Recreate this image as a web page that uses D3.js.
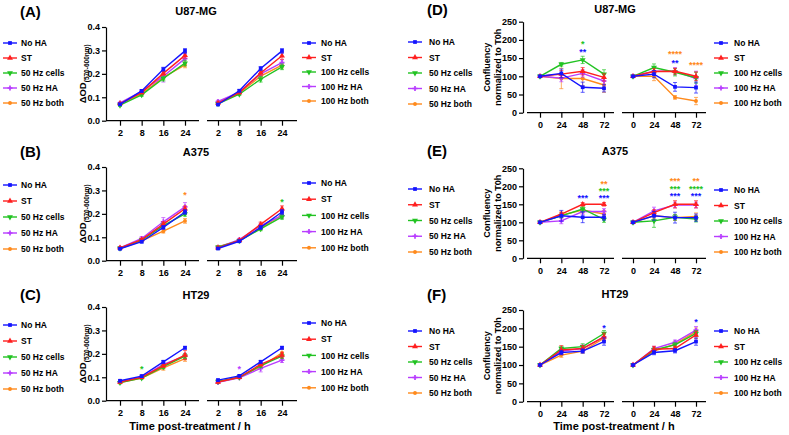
<!DOCTYPE html>
<html>
<head>
<meta charset="utf-8">
<script src="https://cdn.jsdelivr.net/npm/d3@7"></script>
<style>
body { margin: 0; background: #fff; }
text { font-family: "Liberation Sans", Arial, sans-serif; font-weight: bold; }
</style>
</head>
<body>
<svg width="789" height="435" viewBox="0 0 789 435"></svg>
<script>
// categories
const odTimes = ["2", "8", "16", "24"];
const confTimes = ["0", "24", "48", "72"];
const names50 = ["No HA", "ST", "50 Hz cells", "50 Hz HA", "50 Hz both"];
const names100 = ["No HA", "ST", "100 Hz cells", "100 Hz HA", "100 Hz both"];
const colors = ["#1414ff", "#ff1f1f", "#22c322", "#b83cff", "#ff8a1c"];

// OD values, one row per series
const u87Od50 = [[0.070, 0.127, 0.220, 0.298], [0.073, 0.120, 0.202, 0.279], [0.066, 0.110, 0.180, 0.246], [0.076, 0.125, 0.190, 0.265], [0.071, 0.115, 0.185, 0.238]];
const u87Od50Err = [[0.004, 0.005, 0.008, 0.010], [0.004, 0.005, 0.008, 0.012], [0.005, 0.006, 0.010, 0.012], [0.004, 0.008, 0.025, 0.020], [0.004, 0.006, 0.010, 0.012]];
const u87Od100 = [[0.069, 0.128, 0.223, 0.298], [0.075, 0.120, 0.204, 0.277], [0.072, 0.113, 0.177, 0.230], [0.082, 0.122, 0.200, 0.248], [0.078, 0.118, 0.190, 0.237]];
const u87Od100Err = [[0.004, 0.005, 0.008, 0.010], [0.004, 0.005, 0.010, 0.015], [0.004, 0.005, 0.012, 0.012], [0.005, 0.005, 0.010, 0.012], [0.004, 0.005, 0.010, 0.012]];

const a375Od50 = [[0.051, 0.081, 0.142, 0.208], [0.055, 0.090, 0.156, 0.222], [0.053, 0.088, 0.150, 0.200], [0.055, 0.095, 0.166, 0.230], [0.052, 0.085, 0.126, 0.170]];
const a375Od50Err = [[0.004, 0.005, 0.008, 0.010], [0.004, 0.005, 0.010, 0.012], [0.003, 0.005, 0.010, 0.010], [0.004, 0.008, 0.018, 0.018], [0.003, 0.005, 0.008, 0.010]];
const a375Od100 = [[0.052, 0.083, 0.142, 0.208], [0.055, 0.087, 0.155, 0.222], [0.058, 0.085, 0.136, 0.187], [0.057, 0.090, 0.150, 0.192], [0.060, 0.086, 0.140, 0.195]];
const a375Od100Err = [[0.004, 0.005, 0.008, 0.010], [0.004, 0.005, 0.010, 0.012], [0.004, 0.005, 0.008, 0.010], [0.004, 0.005, 0.010, 0.012], [0.004, 0.005, 0.008, 0.012]];

const ht29Od50 = [[0.085, 0.105, 0.166, 0.226], [0.080, 0.100, 0.150, 0.195], [0.077, 0.097, 0.145, 0.190], [0.080, 0.100, 0.155, 0.190], [0.077, 0.097, 0.140, 0.180]];
const ht29Od50Err = [[0.004, 0.004, 0.006, 0.006], [0.004, 0.005, 0.008, 0.020], [0.004, 0.004, 0.008, 0.010], [0.004, 0.005, 0.010, 0.012], [0.004, 0.004, 0.010, 0.012]];
const ht29Od100 = [[0.088, 0.106, 0.166, 0.226], [0.080, 0.100, 0.155, 0.195], [0.082, 0.100, 0.150, 0.190], [0.078, 0.098, 0.138, 0.173], [0.080, 0.100, 0.145, 0.204]];
const ht29Od100Err = [[0.004, 0.004, 0.006, 0.006], [0.004, 0.005, 0.008, 0.012], [0.004, 0.004, 0.008, 0.010], [0.004, 0.005, 0.015, 0.010], [0.004, 0.004, 0.008, 0.015]];

// confluency values (% of T0h)
const u87Conf50 = [[100, 108, 70, 67], [100, 106, 114, 97], [100, 133, 145, 106], [100, 95, 108, 87], [100, 94, 94, 76]];
const u87Conf50Err = [[0, 12, 14, 10], [0, 10, 10, 10], [0, 5, 10, 12], [0, 10, 10, 20], [0, 28, 20, 20]];
const u87Conf100 = [[100, 106, 71, 69], [100, 113, 114, 100], [100, 124, 111, 96], [100, 114, 114, 94], [100, 100, 42, 32]];
const u87Conf100Err = [[0, 10, 12, 15], [0, 8, 8, 12], [0, 10, 10, 15], [0, 10, 10, 20], [0, 12, 5, 10]];

const a375Conf50 = [[100, 118, 114, 114], [100, 123, 150, 150], [100, 118, 137, 108], [100, 104, 130, 130], [100, 120, 134, 123]];
const a375Conf50Err = [[0, 15, 15, 8], [0, 5, 5, 5], [0, 5, 8, 8], [0, 8, 8, 8], [0, 8, 8, 10]];
const a375Conf100 = [[100, 118, 113, 113], [100, 127, 150, 150], [100, 104, 114, 109], [100, 132, 148, 148], [100, 118, 113, 116]];
const a375Conf100Err = [[0, 12, 15, 10], [0, 8, 10, 10], [0, 18, 8, 8], [0, 10, 8, 8], [0, 8, 8, 10]];

const ht29Conf50 = [[100, 134, 138, 164], [100, 141, 145, 177], [100, 145, 150, 186], [100, 138, 145, 177], [100, 127, 138, 173]];
const ht29Conf50Err = [[0, 6, 6, 10], [0, 12, 8, 10], [0, 6, 8, 8], [0, 8, 10, 10], [0, 6, 6, 10]];
const ht29Conf100 = [[100, 134, 139, 164], [100, 143, 145, 182], [100, 141, 155, 186], [100, 145, 162, 195], [100, 138, 157, 191]];
const ht29Conf100Err = [[0, 6, 6, 10], [0, 8, 6, 10], [0, 6, 6, 8], [0, 6, 6, 10], [0, 6, 8, 10]];

// significance: panel, side, time index, series, number of stars, value
const sigMarks = [
    ["B", 0, 3, 4, 1, 0.287], ["B", 1, 3, 2, 1, 0.258],
    ["C", 0, 1, 2, 1, 0.142], ["C", 1, 1, 3, 1, 0.142],
    ["D", 0, 2, 2, 1, 193], ["D", 0, 2, 0, 2, 170],
    ["D", 1, 2, 4, 4, 165], ["D", 1, 2, 0, 2, 142], ["D", 1, 3, 4, 4, 134],
    ["E", 0, 2, 0, 3, 171], ["E", 0, 3, 4, 2, 210], ["E", 0, 3, 2, 3, 190], ["E", 0, 3, 0, 3, 171],
    ["E", 1, 2, 4, 3, 219], ["E", 1, 2, 2, 3, 197], ["E", 1, 2, 0, 3, 176],
    ["E", 1, 3, 4, 2, 219], ["E", 1, 3, 2, 4, 197], ["E", 1, 3, 0, 3, 176],
    ["F", 0, 3, 0, 1, 205], ["F", 1, 3, 0, 1, 221]
];

const svg = d3.select("svg");

const symbols = [
    d3.symbol(d3.symbolSquare, 14),
    d3.symbol(d3.symbolTriangle, 15),
    d3.symbol(d3.symbolTriangle, 15),
    d3.symbol(d3.symbolCross, 14),
    d3.symbol(d3.symbolCircle, 12)
];

const odLayout = {
    times: odTimes, domain: [0, 0.4], ticks: [0, 0.1, 0.2, 0.3, 0.4], fmt: d3.format(".1f"),
    axisX: 106, labelX: 20, titleX: 196,
    subs: [{ range: [120, 185], line: [106, 199] }, { range: [218, 282], line: [207, 297] }],
    legends: [{ x1: 3, x2: 17, tx: 21 }, { x1: 302, x2: 316, tx: 321 }]
};
const confLayout = {
    times: confTimes, domain: [0, 250], ticks: [0, 50, 100, 150, 200, 250], fmt: d3.format("d"),
    axisX: 523, labelX: 427, titleX: 615,
    subs: [{ range: [540, 604], line: [527, 614] }, { range: [633, 696], line: [622, 706] }],
    legends: [{ x1: 408, x2: 422, tx: 429 }, { x1: 714, x2: 728, tx: 734 }]
};

const panels = [
    { id: "A", title: "U87-MG", lay: odLayout, data: [u87Od50, u87Od100], err: [u87Od50Err, u87Od100Err], yRange: [120.7, 27], labelY: 17, titleY: 15, leg: [[43, 15], [43, 14.5]] },
    { id: "B", title: "A375", lay: odLayout, data: [a375Od50, a375Od100], err: [a375Od50Err, a375Od100Err], yRange: [260.7, 167], labelY: 157, titleY: 156, leg: [[185, 16], [183, 16.2]] },
    { id: "C", title: "HT29", lay: odLayout, data: [ht29Od50, ht29Od100], err: [ht29Od50Err, ht29Od100Err], yRange: [400.7, 307], labelY: 300, titleY: 299, leg: [[325, 16], [323, 16.2]] },
    { id: "D", title: "U87-MG", lay: confLayout, data: [u87Conf50, u87Conf100], err: [u87Conf50Err, u87Conf100Err], yRange: [112.7, 21.7], labelY: 15, titleY: 13, leg: [[42, 15.5], [43, 15]] },
    { id: "E", title: "A375", lay: confLayout, data: [a375Conf50, a375Conf100], err: [a375Conf50Err, a375Conf100Err], yRange: [258.3, 168.3], labelY: 156, titleY: 155, leg: [[189, 15.75], [190, 15.5]] },
    { id: "F", title: "HT29", lay: confLayout, data: [ht29Conf50, ht29Conf100], err: [ht29Conf50Err, ht29Conf100Err], yRange: [401.7, 310], labelY: 300, titleY: 298, leg: [[331, 15.5], [331, 15.5]] }
];

function styleAxis(g) {
    g.selectAll("path, line").attr("stroke", "#000").attr("stroke-width", 1.2);
    g.selectAll("text").attr("font-size", 9).attr("fill", "#000")
        .attr("font-family", "'Liberation Sans', Arial, sans-serif").attr("font-weight", "bold");
}

function marker(sel, k, x, y) {
    sel.append("path")
        .attr("d", symbols[k]())
        .attr("transform", `translate(${x},${y})` + (k === 2 ? " rotate(180)" : ""))
        .attr("fill", colors[k]);
}

function drawPanel(p) {
    const lay = p.lay;
    const g = svg.append("g");
    const y = d3.scaleLinear().domain(lay.domain).range(p.yRange);

    g.append("text").attr("x", lay.labelX).attr("y", p.labelY)
        .attr("font-size", 15).text(`(${p.id})`);
    g.append("text").attr("x", lay.titleX).attr("y", p.titleY)
        .attr("text-anchor", "middle").attr("font-size", 11).text(p.title);

    g.append("g").attr("transform", `translate(${lay.axisX},0)`)
        .call(d3.axisLeft(y).tickValues(lay.ticks).tickFormat(lay.fmt).tickSize(4).tickSizeOuter(0).tickPadding(2))
        .call(styleAxis);

    // y axis title
    const midY = (p.yRange[0] + p.yRange[1]) / 2;
    if (lay === odLayout) {
        const t = g.append("text").attr("transform", `translate(86,${midY}) rotate(-90)`)
            .attr("text-anchor", "middle").attr("font-size", 9.5);
        t.append("tspan").text("ΔOD");
        t.append("tspan").attr("dy", 2.5).attr("font-size", 6.5).text("(570-600nm)");
    } else {
        g.append("text").attr("transform", `translate(490,${midY}) rotate(-90)`)
            .attr("text-anchor", "middle").attr("font-size", 9).text("Confluency");
        g.append("text").attr("transform", `translate(501,${midY}) rotate(-90)`)
            .attr("text-anchor", "middle").attr("font-size", 9).text("normalized to T0h");
    }

    lay.subs.forEach((s, si) => {
        const x = d3.scalePoint().domain(lay.times).range(s.range);
        const ax = g.append("g").attr("transform", `translate(0,${y(0)})`)
            .call(d3.axisBottom(x).tickSize(5).tickSizeOuter(0).tickPadding(4))
            .call(styleAxis);
        ax.select(".domain").attr("d", `M${s.line[0]},0H${s.line[1]}`);

        const vals = p.data[si], errs = p.err[si];
        for (let k = vals.length - 1; k >= 0; k--) {
            const sg = g.append("g");
            const pts = vals[k].map((v, i) => [x(lay.times[i]), y(v), errs[k][i]]);
            // error bars
            pts.forEach(([px, py, e], i) => {
                if (!e) return;
                const v = vals[k][i];
                const y1 = y(v + e), y2 = y(v - e);
                sg.append("path")
                    .attr("d", `M${px},${y1}V${y2}M${px - 2},${y1}H${px + 2}M${px - 2},${y2}H${px + 2}`)
                    .attr("stroke", colors[k]).attr("stroke-width", 0.8).attr("fill", "none").attr("opacity", 0.85);
            });
            sg.append("path")
                .attr("d", d3.line()(pts.map(d => [d[0], d[1]])))
                .attr("fill", "none").attr("stroke", colors[k]).attr("stroke-width", 1.4);
            pts.forEach(([px, py]) => marker(sg, k, px, py));
        }

        // legend
        const L = lay.legends[si], [ly0, step] = p.leg[si];
        const names = si ? names100 : names50;
        names.forEach((n, k) => {
            const ly = ly0 + k * step;
            g.append("line").attr("x1", L.x1).attr("x2", L.x2).attr("y1", ly).attr("y2", ly)
                .attr("stroke", colors[k]).attr("stroke-width", 1.4);
            marker(g, k, (L.x1 + L.x2) / 2, ly);
            g.append("text").attr("x", L.tx).attr("y", ly + 3.2).attr("font-size", 8.5).text(n);
        });

        // significance stars
        sigMarks.filter(m => m[0] === p.id && m[1] === si).forEach(m => {
            g.append("text")
                .attr("x", x(lay.times[m[2]])).attr("y", y(m[5]) + 4.5)
                .attr("text-anchor", "middle").attr("font-size", 9)
                .attr("fill", colors[m[3]]).text("*".repeat(m[4]));
        });
    });
}

panels.forEach(drawPanel);

svg.append("text").attr("x", 190).attr("y", 430).attr("text-anchor", "middle")
    .attr("font-size", 11).text("Time post-treatment / h");
svg.append("text").attr("x", 614).attr("y", 430).attr("text-anchor", "middle")
    .attr("font-size", 11).text("Time post-treatment / h");
</script>
</body>
</html>
